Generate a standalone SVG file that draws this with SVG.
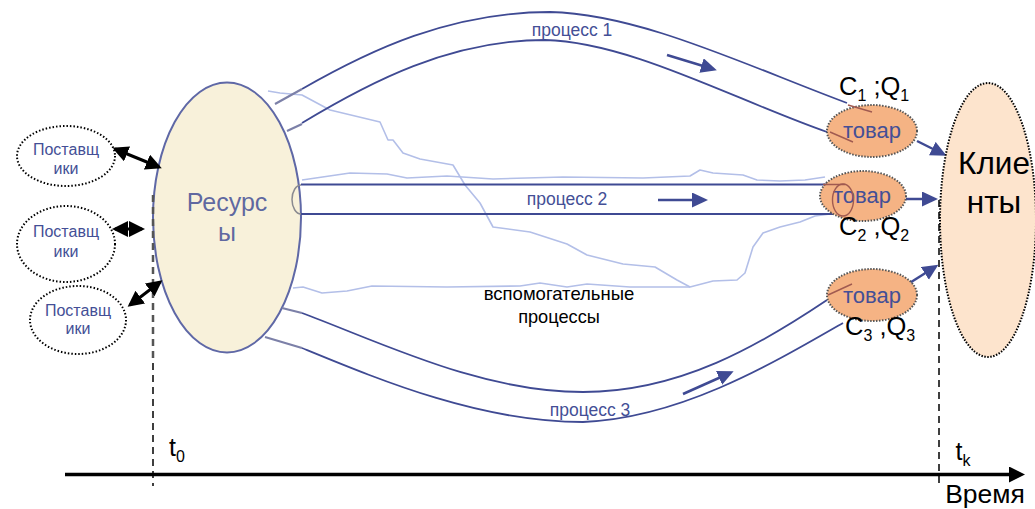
<svg xmlns="http://www.w3.org/2000/svg" width="1035" height="509" viewBox="0 0 1035 509">
<style>
text{font-family:"Liberation Sans",Arial,sans-serif;text-anchor:middle}
.st{text-anchor:start}
.b{fill:#444f96}.k{fill:#000}
.sup{fill:#fff;stroke:#000;stroke-width:2;stroke-dasharray:1.5 2}
.tov{fill:#f5b384;stroke:#555;stroke-width:2;stroke-dasharray:1.5 1.5}
.p{fill:none;stroke:#3f4a93;stroke-width:1.8}
.s{fill:none;stroke:#b3bfe8;stroke-width:1.6;stroke-linejoin:round}
.r{fill:none;stroke:#a05a50;stroke-width:1.4}
.g{fill:none;stroke:#7c80a8;stroke-width:2.200}
.dk{stroke:#000;stroke-width:3;fill:none}
.ba{stroke:#3f4a93;stroke-width:2.5;fill:none}
.d{stroke:#000;stroke-width:1.5;stroke-dasharray:7 5;fill:none}
</style>
<defs>
<marker id="ah" markerUnits="userSpaceOnUse" markerWidth="18" markerHeight="16" refX="12" refY="7.500" orient="auto"><path d="M0 0L16 7.500L0 15Z" fill="#3f4a93"/></marker>
<marker id="ak" markerUnits="userSpaceOnUse" markerWidth="18" markerHeight="18" refX="13" refY="8" orient="auto-start-reverse"><path d="M0 0L16 8L0 16Z" fill="#000"/></marker>
<marker id="at" markerUnits="userSpaceOnUse" markerWidth="18" markerHeight="18" refX="4" refY="8" orient="auto"><path d="M0 0L16 8L0 16Z" fill="#000"/></marker>
</defs>
<g id="resources"><ellipse cx="227" cy="217.500" rx="74" ry="135" fill="#f8f1da" stroke="#5f68a6" stroke-width="2"/>
<text class="b" font-size="25" x="227" y="211" fill-opacity=".85">Ресурс</text><text class="b" font-size="25" x="227" y="241" fill-opacity=".85">ы</text></g>
<g id="connectors">
<path class="d" d="M153 195V486M939 200V487"/>
<path d="M153 195V360" stroke="#555" stroke-width="2.500" stroke-dasharray="7 5" fill="none"/>
<path class="s" d="M268 91L280 93L302 95L330 110L380 122L388 140L393 140L403 153L420 159L453 165L465 185L480 203L493 227L530 232L567 244L587 255L623 264L655 267L677 280L690 287L713 281L737 280L745 273L753 247L763 233L780 227L800 222L815 216L830 214"/>
<path class="s" d="M302 180L350 173L387 174L407 178L447 176L493 179L563 177L643 178L690 176L700 170L713 173L743 175L757 180L780 181L805 180L825 177"/>
<path class="s" d="M293 288L303 287L322 293L347 291L372 286L447 287L520 286L540 283L567 287L587 284L630 287L690 287"/>
<path class="p" d="M302 89C370 50 450 12 550 12C640 14 745 65 847 103"/>
<path class="p" d="M302 123C370 82 450 40 545 40C630 42 735 100 827 132"/>
<path class="g" d="M275 104L302 89M287 131L302 124M282 308L302 313M265 337L302 348"/>
<path class="p" d="M301 184.500H833M301 214H833"/>
<path class="p" d="M302 313C380 342 480 392 583 392C680 392 760 345 827 300"/>
<path class="p" d="M302 348C380 380 480 422 583 422C680 418 770 365 843 323"/>
<path d="M301 185A9 14.500 0 0 0 301 214" fill="none" stroke="#8a8a90" stroke-width="1.500"/>
<path class="ba" d="M667 55L713 69" marker-end="url(#ah)"/>
<path class="ba" d="M658 200H704" marker-end="url(#ah)"/>
<path class="ba" d="M683 394L730 373" marker-end="url(#ah)"/>
<path class="ba" d="M917 141L943 154" marker-end="url(#ah)"/>
<path class="ba" d="M906 199H934" marker-end="url(#ah)"/>
<path class="ba" d="M908 284L935 267" marker-end="url(#ah)"/>
<path class="dk" d="M115 149L159 167" marker-start="url(#ak)" marker-end="url(#ak)"/>
<path class="dk" d="M115 229H142" marker-start="url(#ak)" marker-end="url(#ak)"/>
<path class="dk" d="M130 305L160 282" marker-start="url(#ak)" marker-end="url(#ak)"/>
<path d="M65 474.500H1013" stroke="#000" stroke-width="3.500" fill="none" marker-end="url(#at)"/>
</g>
<g id="s1"><ellipse class="sup" cx="66" cy="156" rx="49" ry="30"/><text class="b" font-size="16" x="66" y="155">Поставщ</text><text class="b" font-size="16" x="66" y="174">ики</text></g>
<g id="s2"><ellipse class="sup" cx="66" cy="244" rx="49" ry="38"/><text class="b" font-size="16" x="66" y="237">Поставщ</text><text class="b" font-size="16" x="66" y="257">ики</text></g>
<g id="s3"><ellipse class="sup" cx="78" cy="320" rx="48" ry="34"/><text class="b" font-size="16" x="78" y="316">Поставщ</text><text class="b" font-size="16" x="78" y="334">ики</text></g>
<g id="clients"><ellipse cx="988" cy="220" rx="48" ry="137" fill="#fde4cd" stroke="#000" stroke-width="2" stroke-dasharray="1.500 1.500"/>
<text class="k" font-size="31.500" x="994" y="174">Клие</text><text class="k" font-size="31.500" x="994" y="213">нты</text></g>
<g id="t1"><ellipse class="tov" cx="872" cy="131" rx="45" ry="26"/><text class="b" font-size="22" x="872" y="138">товар</text></g>
<g id="t2"><ellipse class="tov" cx="863" cy="196" rx="43" ry="25"/><text class="b" font-size="22" x="862" y="203">товар</text></g>
<g id="t3"><ellipse class="tov" cx="872" cy="295" rx="45" ry="26"/><text class="b" font-size="22" x="872" y="303">товар</text></g>
<g id="connector-overlays">
<path class="r" d="M848 105L872 112M830 132L853 142M828 295L852 284M823 184.500H845"/>
<ellipse class="r" cx="843" cy="200" rx="10.500" ry="16"/>
</g>
<g id="labels">
<text class="b" font-size="17.500" x="572" y="36">процесс 1</text>
<text class="b" font-size="17.500" x="567" y="205">процесс 2</text>
<text class="b" font-size="17.500" x="590" y="416">процесс 3</text>
<text class="k" font-size="18.500" x="559" y="300">вспомогательные</text>
<text class="k" font-size="18.200" x="559" y="323">процессы</text>
<text class="k st" font-size="25.500" x="839" y="95">C<tspan font-size="16" dy="6">1</tspan><tspan dy="-6"> ;Q</tspan><tspan font-size="16" dy="6">1</tspan></text>
<text class="k st" font-size="25.500" x="839" y="235">C<tspan font-size="16" dy="6">2</tspan><tspan dy="-6"> ,Q</tspan><tspan font-size="16" dy="6">2</tspan></text>
<text class="k st" font-size="25.500" x="845" y="335">C<tspan font-size="16" dy="6">3</tspan><tspan dy="-6"> ,Q</tspan><tspan font-size="16" dy="6">3</tspan></text>
<text class="k" font-size="25" x="177" y="456">t<tspan font-size="16" dy="6">0</tspan></text>
<text class="k" font-size="25" x="963" y="460">t<tspan font-size="16" dy="6">k</tspan></text>
<text class="k" font-size="26.500" x="985" y="503">Время</text>
</g>
</svg>
